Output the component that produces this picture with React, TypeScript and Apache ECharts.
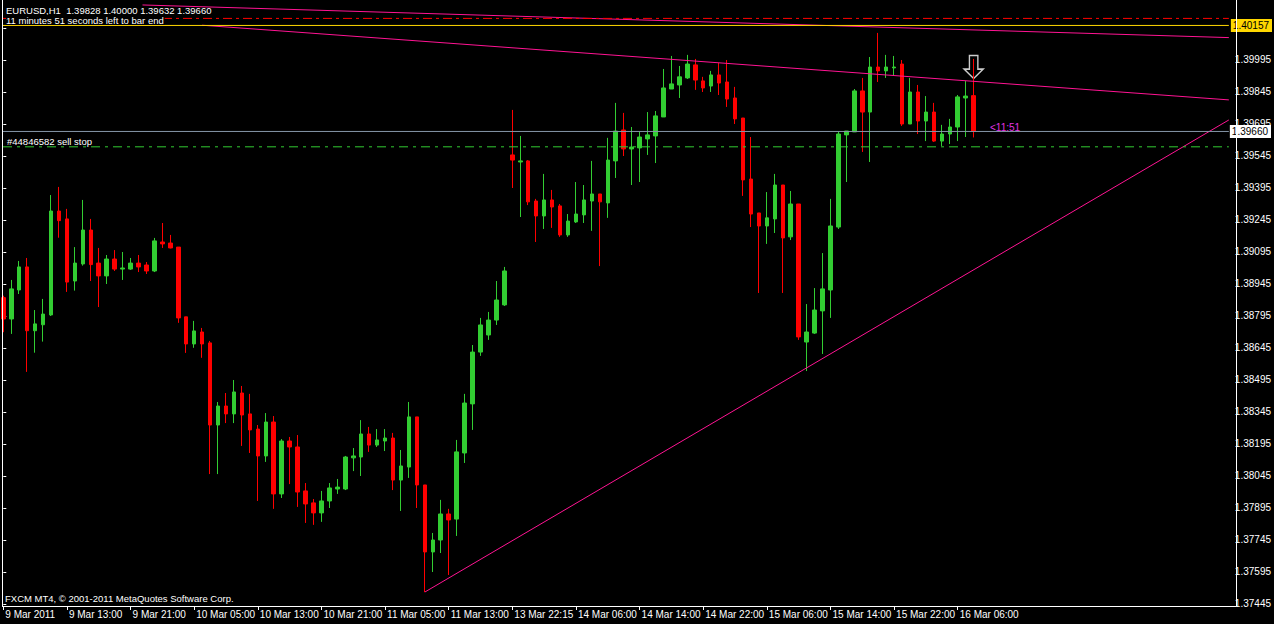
import React, { useEffect, useRef } from "react";
import * as echarts from "echarts";

// ---- Data (EURUSD H1, bars 0..122 from 9 Mar 2011 05:00) ----
const OPEN = [
  1.38881, 1.38781, 1.38917, 1.39025, 1.38726, 1.38754, 1.388, 1.39287, 1.3925, 1.38959,
  1.39039, 1.39198, 1.39043, 1.38983, 1.39062, 1.39015, 1.39015, 1.39043, 1.39034, 1.39006,
  1.39142, 1.39137, 1.39118, 1.38791, 1.38664, 1.3872, 1.38669, 1.38284, 1.38373, 1.38336,
  1.38434, 1.38336, 1.38265, 1.38139, 1.38298, 1.37961, 1.38209, 1.38181, 1.37975, 1.37919,
  1.37872, 1.37928, 1.37984, 1.37984, 1.3813, 1.38134, 1.38242, 1.3819, 1.38209, 1.38223,
  1.38026, 1.38087, 1.38322, 1.38003, 1.37689, 1.37745, 1.37867, 1.37843, 1.38153, 1.38383,
  1.38626, 1.38706, 1.38776, 1.38847, 1.3955, 1.39517, 1.39522, 1.39334, 1.39264, 1.39339,
  1.39311, 1.39175, 1.39236, 1.39269, 1.39334, 1.39367, 1.39325, 1.39522, 1.39667, 1.39578,
  1.39583, 1.39625, 1.39639, 1.39728, 1.39859, 1.39878, 1.39911, 1.39972, 1.39897, 1.39873,
  1.39925, 1.39892, 1.39817, 1.39723, 1.39437, 1.39278, 1.39217, 1.3925, 1.39409, 1.39166,
  1.3932, 1.38673, 1.38715, 1.38819, 1.38917, 1.39212, 1.39644, 1.39658, 1.3985, 1.39751,
  1.39962, 1.39944, 1.39958, 1.39976, 1.39695, 1.39845, 1.39709, 1.39751, 1.39615, 1.39648,
  1.39681, 1.39817, 1.39828,
];
const HIGH = [
  1.3889, 1.38964, 1.39053, 1.39067, 1.38823, 1.38875, 1.39362, 1.394, 1.39297, 1.39118,
  1.39339, 1.3925, 1.39114, 1.39081, 1.39104, 1.39095, 1.39067, 1.39081, 1.39048, 1.39161,
  1.39231, 1.39175, 1.39118, 1.38791, 1.38772, 1.38739, 1.38678, 1.38392, 1.38434, 1.38495,
  1.38467, 1.3843, 1.38284, 1.3834, 1.38326, 1.38218, 1.38228, 1.38237, 1.38012, 1.37937,
  1.37975, 1.38012, 1.38031, 1.38139, 1.38176, 1.38307, 1.38275, 1.38265, 1.38265, 1.38247,
  1.38167, 1.38392, 1.38322, 1.38003, 1.37778, 1.37933, 1.37891, 1.38214, 1.3843, 1.38659,
  1.38786, 1.38814, 1.38959, 1.39025, 1.39761, 1.39639, 1.39526, 1.39344, 1.39461, 1.39386,
  1.3932, 1.39273, 1.39423, 1.39409, 1.39522, 1.39367, 1.3963, 1.39794, 1.39747, 1.39681,
  1.39658, 1.39751, 1.39756, 1.39953, 1.40014, 1.39967, 1.40019, 1.4, 1.39916, 1.39944,
  1.39981, 1.39995, 1.39869, 1.39723, 1.39634, 1.39278, 1.39376, 1.39461, 1.39409, 1.39381,
  1.3932, 1.38851, 1.38926, 1.3909, 1.39344, 1.39658, 1.39662, 1.39859, 1.39911, 1.40009,
  1.40122, 1.40019, 1.40014, 1.39995, 1.39911, 1.39878, 1.39826, 1.39794, 1.39691, 1.39719,
  1.39831, 1.39897, 1.4,
];
const LOW = [
  1.38719, 1.38711, 1.38898, 1.38533, 1.38623, 1.38675, 1.38795, 1.39162, 1.38908, 1.38914,
  1.39031, 1.38959, 1.38837, 1.38945, 1.39006, 1.38964, 1.39011, 1.39001, 1.38992, 1.39001,
  1.39114, 1.39112, 1.38763, 1.38622, 1.38646, 1.38599, 1.38054, 1.38054, 1.38293, 1.38293,
  1.38186, 1.38153, 1.37928, 1.38111, 1.37891, 1.37942, 1.38007, 1.379, 1.37825, 1.37816,
  1.3783, 1.37895, 1.37961, 1.37979, 1.38068, 1.38045, 1.38158, 1.38181, 1.38162, 1.37979,
  1.37881, 1.38036, 1.37895, 1.37501, 1.37595, 1.37684, 1.37581, 1.37764, 1.38106, 1.38261,
  1.38608, 1.38683, 1.38753, 1.38842, 1.39395, 1.39259, 1.39315, 1.39142, 1.39203, 1.39208,
  1.39166, 1.39166, 1.39231, 1.39231, 1.39194, 1.39029, 1.39255, 1.39442, 1.39545, 1.39409,
  1.39423, 1.3955, 1.39512, 1.39728, 1.39859, 1.39817, 1.39906, 1.39855, 1.39845, 1.39845,
  1.39831, 1.39775, 1.39695, 1.39358, 1.39212, 1.38903, 1.39133, 1.39184, 1.38903, 1.39151,
  1.38683, 1.38537, 1.38711, 1.38617, 1.38786, 1.39203, 1.39423, 1.39658, 1.39564, 1.39517,
  1.39892, 1.39911, 1.3992, 1.39686, 1.39695, 1.39648, 1.39615, 1.39611, 1.39592, 1.39601,
  1.39615, 1.39634, 1.39632,
];
const CLOSE = [
  1.38781, 1.38922, 1.39025, 1.38726, 1.38758, 1.38804, 1.39287, 1.39242, 1.38954, 1.39043,
  1.39198, 1.39036, 1.38983, 1.39062, 1.39015, 1.3902, 1.39043, 1.39025, 1.39006, 1.39147,
  1.39133, 1.39114, 1.38786, 1.38664, 1.38725, 1.38664, 1.38284, 1.38373, 1.38336, 1.38439,
  1.38331, 1.38261, 1.38139, 1.38298, 1.37961, 1.38209, 1.38181, 1.3797, 1.37914, 1.37872,
  1.37928, 1.37989, 1.37993, 1.38134, 1.38139, 1.38242, 1.3819, 1.38214, 1.38223, 1.38026,
  1.38092, 1.38322, 1.38003, 1.37689, 1.37745, 1.37867, 1.37839, 1.38158, 1.38387, 1.38626,
  1.38753, 1.38776, 1.3887, 1.39006, 1.39526, 1.39522, 1.3933, 1.39264, 1.39339, 1.39306,
  1.39175, 1.3924, 1.39273, 1.39339, 1.39367, 1.3933, 1.39526, 1.39662, 1.39578, 1.39587,
  1.39634, 1.39644, 1.39733, 1.39864, 1.39883, 1.39916, 1.39976, 1.39901, 1.39864, 1.39925,
  1.39887, 1.39812, 1.39719, 1.39433, 1.39273, 1.39217, 1.39255, 1.39409, 1.39161, 1.3932,
  1.38697, 1.3872, 1.38823, 1.38922, 1.39217, 1.39648, 1.39662, 1.3985, 1.39751, 1.39962,
  1.39944, 1.39962, 1.39962, 1.39695, 1.39845, 1.39709, 1.39751, 1.39615, 1.39648, 1.39681,
  1.39822, 1.39826, 1.3966,
];

const X_TICK_INDEX = [0, 8, 16, 24, 32, 40, 48, 56, 64, 72, 80, 88, 96, 104, 112, 120];
const X_TICK_LABELS = [
  "9 Mar 2011", "9 Mar 13:00", "9 Mar 21:00", "10 Mar 05:00", "10 Mar 13:00", "10 Mar 21:00",
  "11 Mar 05:00", "11 Mar 13:00", "13 Mar 22:15", "14 Mar 06:00", "14 Mar 14:00", "14 Mar 22:00",
  "15 Mar 06:00", "15 Mar 14:00", "15 Mar 22:00", "16 Mar 06:00",
];
const Y_TICKS = [
  1.37445, 1.37595, 1.37745, 1.37895, 1.38045, 1.38195, 1.38345, 1.38495, 1.38645, 1.38795,
  1.38945, 1.39095, 1.39245, 1.39395, 1.39545, 1.39695, 1.39845, 1.39995, 1.40145,
];

// trend lines: [bar index, price]
const TREND_TOP = [[17.5, 1.40253], [154.0875, 1.401]];
const TREND_MID = [[25, 1.40158], [154.0875, 1.39808]];
const TREND_UP = [[53, 1.37501], [154.0875, 1.39714]];

const LEVEL_RED = 1.4019;
const LEVEL_ASK = 1.40157;
const LEVEL_BID = 1.3966;
const LEVEL_SELLSTOP = 1.39588;
const ARROW_POINT = [122, 1.39962];

// ---- layout ----
const XMIN = -0.0375;
const XMAX = XMIN + 1233 / 8;
const YMIN = 1.374356;
const YMAX = 1.402575;
const FONT = "'Liberation Sans', Arial, sans-serif";

const candleData = OPEN.map((o, i) => [i, o, CLOSE[i], LOW[i], HIGH[i]]);

function hLine(price: number, color: string, type: any, extra: any = {}) {
  return {
    type: "line",
    data: [
      [XMIN, price],
      [XMAX, price],
    ],
    symbol: "none",
    silent: true,
    z: 4,
    lineStyle: { color, width: 1, type },
    ...extra,
  };
}

function trend(data: number[][]) {
  return {
    type: "line",
    data,
    symbol: "none",
    silent: true,
    z: 4,
    lineStyle: { color: "#ff1493", width: 1 },
  };
}

const option: any = {
  animation: false,
  backgroundColor: "#000",
  grid: { left: 3, top: 4, width: 1233, height: 602, containLabel: false },
  xAxis: {
    type: "value",
    min: XMIN,
    max: XMAX,
    axisLine: { show: false },
    splitLine: { show: false },
    axisTick: { show: true, customValues: X_TICK_INDEX, length: 4, lineStyle: { color: "#fff" } },
    axisLabel: {
      customValues: X_TICK_INDEX,
      formatter: (v: number) => X_TICK_LABELS[X_TICK_INDEX.indexOf(Math.round(v))] ?? "",
      color: "#fff",
      fontSize: 10,
      fontFamily: FONT,
      align: "left",
      margin: 3,
      padding: [0, 0, 0, 2],
    },
  },
  yAxis: {
    type: "value",
    position: "right",
    min: YMIN,
    max: YMAX,
    axisLine: { show: false },
    splitLine: { show: false },
    axisTick: { show: true, customValues: Y_TICKS, length: 3, lineStyle: { color: "#fff" } },
    axisLabel: {
      customValues: Y_TICKS,
      formatter: (v: number) => v.toFixed(5),
      color: "#fff",
      fontSize: 10,
      fontFamily: FONT,
      margin: 6,
    },
  },
  series: [
    {
      type: "scatter",
      data: [ARROW_POINT],
      symbol: "path://M5,0 L13,0 L13,13 L18,13 L9,22 L0,13 L5,13 Z",
      symbolSize: [19, 23],
      z: 1,
      silent: true,
      itemStyle: { color: "#000", borderColor: "#fff", borderWidth: 1.5 },
    },
    {
      type: "candlestick",
      data: candleData,
      barWidth: 4,
      z: 3,
      silent: true,
      itemStyle: {
        color: "#32cd32",
        color0: "#ff0000",
        borderColor: "#32cd32",
        borderColor0: "#ff0000",
        borderColorDoji: "#32cd32",
        borderWidth: 1,
      },
    },
    trend(TREND_TOP),
    trend(TREND_MID),
    trend(TREND_UP),
    hLine(LEVEL_RED, "#ff0000", [9, 4, 3, 4]),
    hLine(LEVEL_ASK, "#ffd700", "solid", {
      endLabel: {
        show: true,
        formatter: () => LEVEL_ASK.toFixed(5),
        backgroundColor: "#ffd700",
        color: "#000",
        fontSize: 10,
        fontFamily: FONT,
        padding: [2, 3, 1, 2],
        distance: 2,
      },
    }),
    hLine(LEVEL_BID, "#8596a8", "solid", {
      endLabel: {
        show: true,
        formatter: () => LEVEL_BID.toFixed(5),
        backgroundColor: "#ffffff",
        color: "#000",
        fontSize: 10,
        fontFamily: FONT,
        padding: [2, 3, 1, 2],
        distance: 1,
      },
    }),
    hLine(LEVEL_SELLSTOP, "#32cd32", [9, 5, 3, 5]),
  ],
  graphic: [
    { type: "line", shape: { x1: 2.5, y1: 0, x2: 2.5, y2: 606.5 }, style: { stroke: "#fff", lineWidth: 1 }, z: 10 },
    { type: "line", shape: { x1: 1236.5, y1: 0, x2: 1236.5, y2: 606.5 }, style: { stroke: "#fff", lineWidth: 1 }, z: 10 },
    { type: "line", shape: { x1: 2, y1: 606.5, x2: 1236.5, y2: 606.5 }, style: { stroke: "#fff", lineWidth: 1 }, z: 10 },
    {
      type: "text",
      x: 6,
      y: 5,
      z: 10,
      style: { text: "EURUSD,H1\u00a0\u00a01.39828 1.40000 1.39632 1.39660", fill: "#fff", font: `9.5px ${FONT}` },
    },
    {
      type: "text",
      x: 6,
      y: 15,
      z: 10,
      style: {
        text: "11 minutes 51 seconds left to bar end",
        fill: "#fff",
        font: `9.5px ${FONT}`,
        backgroundColor: "#000",
        padding: [0, 1, 0, 0],
      },
    },
    {
      type: "text",
      x: 7,
      y: 136,
      z: 10,
      style: { text: "#44846582 sell stop", fill: "#fff", font: `9.5px ${FONT}` },
    },
    {
      type: "text",
      x: 990,
      y: 122,
      z: 10,
      style: { text: "<11:51", fill: "#e033e0", font: `10px ${FONT}` },
    },
    {
      type: "text",
      x: 5,
      y: 593,
      z: 10,
      style: { text: "FXCM MT4, \u00a9 2001-2011 MetaQuotes Software Corp.", fill: "#fff", font: `9.5px ${FONT}` },
    },
  ],
};

export default function App() {
  const ref = useRef<HTMLDivElement>(null);
  useEffect(() => {
    document.body.style.margin = "0";
    document.body.style.background = "#000";
    const chart = echarts.init(ref.current!, null, { renderer: "svg" });
    chart.setOption(option);
    return () => chart.dispose();
  }, []);
  return <div ref={ref} style={{ width: 1274, height: 624, background: "#000" }} />;
}
